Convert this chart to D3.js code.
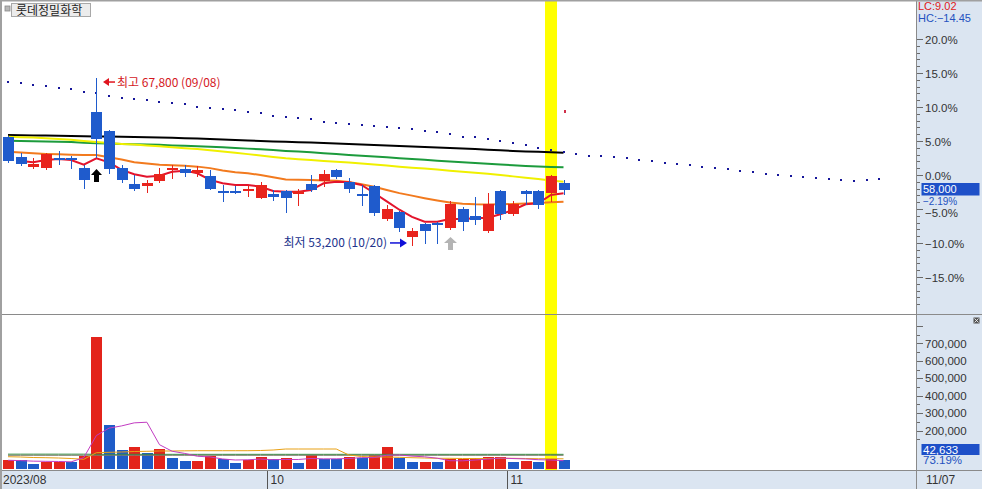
<!DOCTYPE html>
<html><head><meta charset="utf-8">
<script src="https://cdn.jsdelivr.net/npm/d3@7/dist/d3.min.js"></script>
<style>html,body{margin:0;padding:0;background:#fff;overflow:hidden}svg{display:block}</style>
</head><body>
<svg id="chart" width="982" height="489"></svg>
<script>
// ---------------- DATA ----------------
const stockName = "롯데정밀화학";
const year = 2023;
const dates = ["08/30","08/31","09/01","09/04","09/05","09/06","09/07","09/08","09/11","09/12","09/13","09/14","09/15","09/18","09/19","09/20","09/21","09/22","09/25","09/26","09/27","10/04","10/05","10/06","10/10","10/11","10/12","10/13","10/16","10/17","10/18","10/19","10/20","10/23","10/24","10/25","10/26","10/27","10/30","10/31","11/01","11/02","11/03","11/06","11/07"];
const open  = [62600,60900,60000,59900,60800,60800,59900,64800,63100,59900,58500,58300,58800,59700,59800,59500,59200,57900,57900,57900,57300,57600,57900,57600,58500,58800,59700,58700,57600,58300,55500,56100,53900,55000,55100,54700,56300,55700,54400,57900,55900,57900,57900,57700,58600];
const high  = [62700,61200,60800,61200,61400,61000,60200,67800,63200,60200,59300,58900,59900,60200,60200,60100,59700,58400,58300,58400,58700,58000,58000,58100,59300,59700,59800,59000,58400,58400,56700,56200,54700,55100,55200,57000,56500,57400,57700,58000,57000,58000,58000,59300,58900];
const low   = [60400,60200,59900,59800,60300,59900,58200,60900,59500,58700,58000,57800,58700,59000,59200,59200,58100,57000,57700,57500,57300,57100,56100,56700,57900,58300,59000,57800,56700,55800,55400,54400,53200,53400,53400,54600,54500,55000,54300,55500,55800,56800,56400,57000,57600];
const close = [60500,60300,60300,61100,60600,60600,58900,62400,59800,58900,58100,58600,59400,59900,59500,59700,58100,57800,57800,58100,58400,57400,57300,57900,58000,59400,59100,58100,57500,56000,56300,54700,54400,54400,55000,56800,55200,55400,56800,55900,56800,57600,56700,59200,58000];
const volume = [32000,31000,8600,21800,22300,21200,56200,738000,232000,88800,107700,73400,94600,44700,25800,26400,54400,35500,16000,31500,48700,35500,41300,16000,60200,37300,36700,50400,41300,60200,107700,41300,18300,21800,20000,35500,39000,41300,47000,50400,21800,27500,20000,37300,31500];
// price moving averages
const ma5   = [null,60520,60410,60610,60700,60610,60200,60750,60400,59750,59370,59150,59240,59590,59680,59450,58870,58580,58430,58430,58280,57900,57840,57840,57990,58580,58720,58660,58430,57730,57000,56270,55650,55230,55230,55460,55460,55520,55580,55870,56250,56750,56830,57560,57700];
const ma20  = [61330,61260,61190,61140,61100,61070,61050,61040,60850,60650,60420,60300,60200,60150,60100,60030,59900,59700,59550,59450,59300,59100,58900,58880,58860,58830,58790,58680,58500,58280,58000,57720,57500,57280,57080,56900,56790,56740,56720,56740,56770,56810,56860,56920,56970];
const ma60  = [62640,62600,62560,62500,62440,62370,62270,62170,62080,62010,61950,61880,61810,61730,61640,61560,61460,61350,61240,61120,61000,60880,60760,60680,60600,60530,60460,60390,60300,60210,60120,60030,59940,59860,59770,59680,59590,59500,59400,59290,59180,59070,58950,58830,58720];
const ma120 = [62290,62270,62250,62230,62200,62170,62120,62070,62040,62010,61990,61960,61930,61880,61850,61810,61760,61710,61660,61600,61540,61470,61400,61340,61280,61200,61130,61050,60980,60910,60840,60760,60690,60620,60550,60480,60420,60350,60280,60220,60150,60090,60040,60000,59970];
const ma240 = [62790,62770,62750,62740,62720,62700,62680,62660,62650,62630,62610,62590,62570,62540,62510,62480,62440,62400,62350,62310,62270,62230,62200,62160,62130,62090,62050,62010,61960,61920,61870,61830,61790,61740,61700,61650,61610,61560,61510,61460,61400,61360,61320,61280,61250];
// dotted line, extends 25 sessions past the last candle
const dotted = [67380,67300,67150,67060,66860,66770,66560,66410,66220,66040,65900,65840,65640,65550,65470,65260,65170,65030,64970,64770,64680,64470,64330,64240,64160,63950,63810,63720,63660,63570,63460,63370,63310,63160,63020,62850,62640,62590,62440,62290,62060,61920,61680,61480,61330,61130,61000,60960,60830,60740,60610,60520,60390,60300,60170,60040,59910,59780,59650,59560,59430,59340,59210,59130,59040,58950,58860,58820,58860,58910];
const redMark = 64900;
// volume moving averages
const vma5   = [30000,28000,25000,24000,23100,21000,45000,171900,214000,227000,244500,248000,119300,81800,69200,53000,49200,37400,31600,32800,37200,33400,34600,34600,40300,38100,38300,40100,45200,45200,59300,60200,53800,49900,41800,27400,26900,31500,36600,42600,39900,37600,33300,31400,27600];
const vma20  = [50400,48700,45800,44700,43000,40100,35500,73400,75600,77400,80200,81400,83100,83100,84200,84800,84800,84800,84800,84800,86000,88800,94600,94600,94600,94600,94600,60200,51600,48700,48700,47000,44700,43000,41300,41300,40100,40100,40100,41300,41300,40100,39000,39000,38400];
const vma60  = [65000,65000,65000,65000,65000,65000,65000,64000,64000,64000,64000,64000,64000,64000,64000,64000,64000,64000,64000,64000,64000,64000,64000,64000,64000,64000,64000,64000,64000,64000,64000,64000,64000,64000,64000,64000,64000,64000,64000,64000,64000,64000,64000,64000,64000];
const vma120 = [58500,58500,58500,58500,58500,58500,58500,58500,58500,58500,58500,58500,58500,58500,58500,58500,58500,58500,58500,58500,58500,58500,58500,58500,58500,58500,58500,58500,58500,58500,58500,58500,58500,58500,58500,58500,58500,58500,58500,58500,58500,58500,58500,58500,58500];
const basePrice = 59300;
const pctTicks = [-15,-10,-5,0,5,10,15,20];
const volTicks = [200000,300000,400000,500000,600000,700000];
const currentVolumeLabel = 42633;
const volumeRatio = 73.19;
const highlightIdx = 43;
const signals = [{i:7, type:"black"},{i:35, type:"gray"}];

// ---------------- CHART ----------------
const svg = d3.select("#chart");
const FONT = "'Liberation Sans', Arial, sans-serif";
const KFONT = "'Noto Sans CJK KR', 'Noto Sans', sans-serif";
const RED = "#e8231c", BLUE = "#1f5bcc", AXBG = "#dbe5f1";
const n = dates.length;

const x = d3.scaleLinear().domain([0, n - 1]).range([8, 563.5]);
const cx = i => Math.round(x(i));
const yP = d3.scaleLinear().domain([basePrice * 0.8, basePrice * 1.2]).range([311, 39]);
const yPct = d3.scaleLinear().domain([-20, 20]).range([311, 39]);
const yV = d3.scaleLinear().domain([-20000, 800000]).range([469, 469 - 820000 * 0.0001745]);

svg.append("rect").attr("width", 982).attr("height", 489).attr("fill", "#fff");
svg.append("rect").attr("x", 916).attr("y", 0).attr("width", 66).attr("height", 489).attr("fill", AXBG);
svg.append("rect").attr("x", 0).attr("y", 470).attr("width", 982).attr("height", 19).attr("fill", AXBG);

const defs = svg.append("defs");
defs.append("clipPath").attr("id", "cp").append("rect").attr("x", 0).attr("y", 0).attr("width", 916).attr("height", 313);
defs.append("clipPath").attr("id", "cv").append("rect").attr("x", 0).attr("y", 315).attr("width", 916).attr("height", 155);

// highlight band
svg.append("rect").attr("x", cx(highlightIdx) - 6).attr("y", 0).attr("width", 12).attr("height", 470).attr("fill", "#ffff00");

// separators / frame
svg.append("line").attr("x1", 0).attr("x2", 982).attr("y1", 314.5).attr("y2", 314.5).attr("stroke", "#8a8a8a");
svg.append("line").attr("x1", 916.5).attr("x2", 916.5).attr("y1", 0).attr("y2", 489).attr("stroke", "#8a8a8a");
svg.append("line").attr("x1", 0).attr("x2", 982).attr("y1", 470.5).attr("y2", 470.5).attr("stroke", "#8a8a8a");
svg.append("rect").attr("x", 0).attr("y", 0).attr("width", 2).attr("height", 489).attr("fill", "#a0a0a0");
svg.append("rect").attr("x", 0).attr("y", 0).attr("width", 982).attr("height", 1.5).attr("fill", "#a0a0a0");

// ---- price panel
const pg = svg.append("g").attr("clip-path", "url(#cp)");
const maLine = d3.line().defined(d => d != null).x((d, i) => x(i)).y(d => yP(d));
[[ma240, "#000000"], [ma120, "#1c9b3c"], [ma60, "#f0f000"], [ma20, "#f27a1e"], [ma5, "#e3142c"]].forEach(([arr, col]) => {
  pg.append("path").attr("d", maLine(arr)).attr("fill", "none").attr("stroke", col).attr("stroke-width", 2);
});

// dotted line
pg.selectAll("rect.dot").data(dotted).enter().append("rect")
  .attr("x", (d, i) => Math.round(x(i)) - 1).attr("y", d => Math.round(yP(d)) - 1)
  .attr("width", 2).attr("height", 2).attr("fill", "#16169a");
pg.append("rect").attr("x", cx(n - 1)).attr("y", Math.round(yP(redMark)) - 1).attr("width", 2).attr("height", 3).attr("fill", "#d0304a");

// candles
const cg = pg.append("g");
d3.range(n).forEach(i => {
  const up = close[i] > open[i];
  const col = up ? RED : BLUE;
  const c = cx(i);
  cg.append("line").attr("x1", c + 0.5).attr("x2", c + 0.5)
    .attr("y1", Math.round(yP(high[i]))).attr("y2", Math.round(yP(low[i])) + 1)
    .attr("stroke", col).attr("stroke-width", 1);
  const t = Math.round(yP(Math.max(open[i], close[i])));
  const b = Math.round(yP(Math.min(open[i], close[i])));
  cg.append("rect").attr("x", c - 5).attr("y", t).attr("width", 11).attr("height", Math.max(2, b - t)).attr("fill", col);
});

// signal arrows
signals.forEach(s => {
  const c = cx(s.i) + 0.5;
  const top = s.type === "black" ? Math.round(yP(low[s.i])) + 12 : Math.round(yP(low[s.i])) + 8;
  const w = s.type === "black" ? 5.5 : 6.5;
  const p = `M${c},${top} L${c + w},${top + 6} L${c + 2.5},${top + 6} L${c + 2.5},${top + 13} L${c - 2.5},${top + 13} L${c - 2.5},${top + 6} L${c - w},${top + 6} Z`;
  pg.append("path").attr("d", p).attr("fill", s.type === "black" ? "#000" : "#b4b4b4");
});

// high / low annotations
const hiIdx = d3.maxIndex(high), loIdx = d3.minIndex(low);
const fmt = d3.format(",");
{
  const hx = cx(hiIdx) + 7, hy = yP(high[hiIdx]) + 4.5;
  pg.append("path").attr("d", `M${hx},${hy} L${hx + 6},${hy - 4} L${hx + 6},${hy + 4} Z`).attr("fill", "#e0141e");
  pg.append("line").attr("x1", hx + 5).attr("x2", hx + 12).attr("y1", hy).attr("y2", hy).attr("stroke", "#e0141e").attr("stroke-width", 1.5);
  pg.append("text").attr("x", hx + 14).attr("y", hy + 4.5).attr("font-family", KFONT).attr("font-size", 12)
    .attr("fill", "#d4181e").text(`최고 ${fmt(high[hiIdx])} (${dates[hiIdx]})`);
}
{
  const lx = cx(loIdx) - 5, ly = yP(low[loIdx]) - 2;
  pg.append("path").attr("d", `M${lx},${ly} L${lx - 7},${ly - 4.5} L${lx - 7},${ly + 4.5} Z`).attr("fill", "#1010d8");
  pg.append("line").attr("x1", lx - 6).attr("x2", lx - 17).attr("y1", ly).attr("y2", ly).attr("stroke", "#1010d8").attr("stroke-width", 1.5);
  pg.append("text").attr("x", lx - 20).attr("y", ly + 4.5).attr("text-anchor", "end").attr("font-family", KFONT).attr("font-size", 12)
    .attr("fill", "#22338c").text(`최저 ${fmt(low[loIdx])} (${dates[loIdx]})`);
}

// title box
svg.append("rect").attr("x", 5).attr("y", 6).attr("width", 5).attr("height", 5).attr("fill", "#b8b8b8").attr("stroke", "#888").attr("stroke-width", 0.8);
svg.append("rect").attr("x", 11.5).attr("y", 3.5).attr("width", 79).attr("height", 13).attr("fill", "#ececec").attr("stroke", "#a8a8a8");
svg.append("text").attr("x", 16).attr("y", 14.5).attr("font-family", KFONT).attr("font-size", 12).attr("fill", "#222").text(stockName);

// ---- volume panel
const vg = svg.append("g").attr("clip-path", "url(#cv)");
d3.range(n).forEach(i => {
  const up = i === 0 ? true : volume[i] > volume[i - 1];
  const t = Math.round(yV(volume[i]));
  vg.append("rect").attr("x", cx(i) - 5).attr("y", t).attr("width", 11).attr("height", 469 - t).attr("fill", up ? "#e3241b" : "#1f5cc8");
});
const vLine = d3.line().x((d, i) => x(i)).y(d => yV(d));
[[vma60, "#2e8b3e"], [vma120, "#7c7c6c"], [vma20, "#e8a014"], [vma5, "#c23cc2"]].forEach(([arr, col]) => {
  vg.append("path").attr("d", vLine(arr)).attr("fill", "none").attr("stroke", col).attr("stroke-width", 1);
});

// ---- right price axis
const ax = svg.append("g").attr("font-family", FONT).attr("font-size", 11.5);
d3.range(-19, 21).forEach(v => {
  const y = Math.round(yPct(v)) + 0.5;
  const major = v % 5 === 0;
  ax.append("line").attr("x1", 917).attr("x2", major ? 923 : 920).attr("y1", y).attr("y2", y).attr("stroke", "#6a6a6a");
});
const last = close[n - 1];
const lastY = Math.round(yP(last));
// current-price box occupies lastY-7 .. lastY+17; a tick label under it is nudged just below
pctTicks.forEach(v => {
  let by = yPct(v) + 4.5;
  if (by > lastY - 4 && by < lastY + 28) by = Math.max(by, lastY + 27.3);
  ax.append("text").attr("x", 925).attr("y", by).attr("fill", "#333").text(d3.format(".1f")(v) + "%");
});
// LC / HC
ax.append("text").attr("x", 918).attr("y", 9.5).attr("fill", "#e02020").attr("font-size", 11)
  .text("LC:" + d3.format(".2f")((last / low[loIdx] - 1) * 100));
ax.append("text").attr("x", 918).attr("y", 22).attr("fill", "#2452c0").attr("font-size", 11)
  .text("HC:" + d3.format(".2f")((last / high[hiIdx] - 1) * 100));
// current price box
{
  ax.append("rect").attr("x", 921.5).attr("y", lastY - 7).attr("width", 58).attr("height", 12.5).attr("fill", "#1e50c8");
  ax.append("text").attr("x", 923).attr("y", lastY + 2.5).attr("fill", "#fff").attr("font-size", 11).text(fmt(last));
  ax.append("text").attr("x", 923).attr("y", lastY + 14.5).attr("fill", "#2452c0").attr("font-size", 10).text(d3.format(".2f")((last / basePrice - 1) * 100) + "%");
}

// ---- right volume axis
d3.range(150000, 800001, 50000).forEach(v => {
  const y = Math.round(yV(v)) + 0.5;
  const major = v % 100000 === 0;
  ax.append("line").attr("x1", 917).attr("x2", major ? 923 : 920).attr("y1", y).attr("y2", y).attr("stroke", "#6a6a6a");
});
volTicks.forEach(v => {
  ax.append("text").attr("x", 925).attr("y", yV(v) + 4.2).attr("fill", "#333").text(fmt(v));
});
ax.append("rect").attr("x", 921.5).attr("y", 444).attr("width", 58).attr("height", 11).attr("fill", "#1e50c8");
ax.append("text").attr("x", 923).attr("y", 453.5).attr("fill", "#fff").text(fmt(currentVolumeLabel));
ax.append("text").attr("x", 923).attr("y", 464).attr("fill", "#2452c0").text(d3.format(".2f")(volumeRatio) + "%");
// close button
ax.append("rect").attr("x", 973.5).attr("y", 317.5).attr("width", 6).attr("height", 6).attr("fill", "#555");
ax.append("path").attr("d", "M974.5,318.5 L978.5,322.5 M978.5,318.5 L974.5,322.5").attr("stroke", "#fff").attr("stroke-width", 0.8);

// ---- bottom date axis (month starts; one too close to the first label is skipped)
const bx = svg.append("g").attr("font-family", FONT).attr("font-size", 12).attr("fill", "#333");
bx.append("text").attr("x", 3).attr("y", 484).text(year + "/" + dates[0].slice(0, 2));
d3.range(1, n).forEach(i => {
  if (dates[i].slice(0, 2) !== dates[i - 1].slice(0, 2)) {
    const sx = Math.floor(x(i) - 5.5) + 0.5;
    if (sx < 60) return;
    bx.append("line").attr("x1", sx).attr("x2", sx).attr("y1", 471).attr("y2", 489).attr("stroke", "#555");
    bx.append("text").attr("x", sx + 3).attr("y", 484).text(dates[i].slice(0, 2));
  }
});
bx.append("text").attr("x", 926).attr("y", 484).text(dates[n - 1]);
</script></body></html>
